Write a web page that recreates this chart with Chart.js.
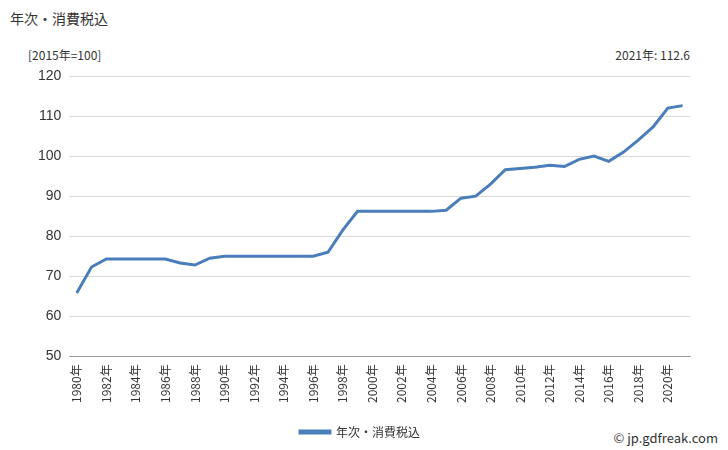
<!DOCTYPE html>
<html><head><meta charset="utf-8">
<script src="https://cdn.jsdelivr.net/npm/chart.js@4/dist/chart.umd.min.js"></script>
<style>
body{margin:0;width:728px;height:450px;background:#fff;font-family:"Noto Sans CJK JP",sans-serif;position:relative;overflow:hidden}
.t{position:absolute;font-size:13px;color:#333}
#wrap{position:absolute;left:0;top:0;width:728px;height:450px}
</style></head><body>
<div class="t" style="left:10px;top:8px;font-size:14px">年次・消費税込</div>
<div class="t" style="left:28px;top:46px;font-size:12px">[2015年=100]</div>
<div class="t" style="right:38px;top:46px;font-size:12px">2021年: 112.6</div>
<div class="t" style="right:10px;top:428px;font-size:13px">© jp.gdfreak.com</div>
<div id="wrap"><canvas id="c"></canvas></div>
<script>
const years = [];
for (let y = 1980; y <= 2021; y++) years.push(y + '年');
const values = [65.8, 72.3, 74.3, 74.3, 74.3, 74.3, 74.3, 73.3, 72.8, 74.5,
  75.0, 75.0, 75.0, 75.0, 75.0, 75.0, 75.0, 76.0, 81.5, 86.2,
  86.2, 86.2, 86.2, 86.2, 86.2, 86.5, 89.5, 90.0, 93.0, 96.6,
  96.9, 97.2, 97.7, 97.4, 99.2, 100.0, 98.7, 101.0, 104.0, 107.3,
  112.0, 112.6];
const yTicks = [50, 60, 70, 80, 90, 100, 110, 120];

new Chart(document.getElementById('c'), {
  type: 'line',
  data: {
    labels: years,
    datasets: [{
      label: '年次・消費税込',
      data: values,
      borderColor: '#4a7ebb',
      backgroundColor: '#4a7ebb',
      borderWidth: 3,
      pointRadius: 0,
      tension: 0
    }]
  },
  options: {
    responsive: true,
    maintainAspectRatio: false,
    animation: false,
    layout: { padding: { top: 76, right: 38, left: 30, bottom: 2 } },
    scales: {
      x: {
        offset: true,
        grid: { display: false, drawTicks: true, tickLength: 5, color: '#999' },
        border: { color: '#999' },
        ticks: {
          autoSkip: false, maxRotation: 90, minRotation: 90,
          color: '#333', font: { size: 12, family: 'Noto Sans CJK JP' },
          callback: (v, i) => (i % 2 === 0 ? years[i] : '')
        }
      },
      y: {
        min: 50, max: 120,
        afterBuildTicks: (s) => { s.ticks = yTicks.map(v => ({ value: v })); },
        grid: { color: '#d9d9d9', drawTicks: false },
        border: { display: false },
        ticks: { color: '#333', padding: 8, font: { size: 14 } }
      }
    },
    plugins: {
      legend: {
        position: 'bottom',
        labels: { boxWidth: 30, boxHeight: 2, padding: 20, color: '#333', font: { size: 12, family: 'Noto Sans CJK JP' } }
      },
      tooltip: { enabled: false }
    }
  }
});
</script>
</body></html>
